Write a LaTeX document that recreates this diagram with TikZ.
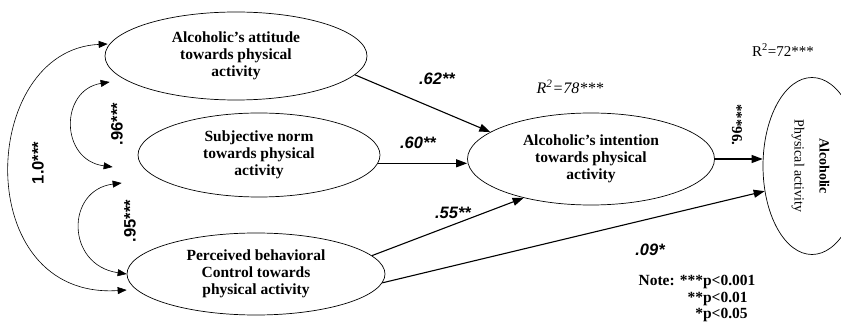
\documentclass[tikz,border=0pt]{standalone}
\usepackage{fontspec}
\setmainfont{Liberation Serif}
\newfontfamily\coeffont{Liberation Sans}
\usetikzlibrary{shapes.geometric,arrows.meta}

\begin{document}
\begin{tikzpicture}[x=1pt, y=-1pt, >={Triangle[length=11pt,width=8pt]},
  construct/.style={draw, ellipse, line width=0.7pt, inner sep=0pt, align=center,
    font=\bfseries\fontsize{15.5}{17}\selectfont},
  effect/.style={->, line width=1.1pt},
  corr/.style={{Triangle[length=9pt,width=7pt]}-{Triangle[length=9pt,width=7pt]}, line width=0.6pt},
  coef/.style={font=\coeffont\bfseries\itshape\fontsize{16.5}{17}\selectfont, inner sep=1pt},
  corrlabel/.style={font=\coeffont\bfseries\fontsize{16.5}{17}\selectfont, rotate=90, inner sep=1pt}]
  % Canvas in pixel units
  \useasboundingbox (0,0) rectangle (841,323);

  % Predictors
  \node[construct, minimum width=262pt, minimum height=88pt] (att) at (236,56)
    {Alcoholic’s attitude\\towards physical\\activity};
  \node[construct, minimum width=242pt, minimum height=84pt] (sub) at (259,155)
    {Subjective norm\\towards physical\\activity};
  \node[construct, minimum width=258pt, minimum height=82pt] (pbc) at (256,274)
    {Perceived behavioral\\Control towards\\physical activity};

  % Intention and behaviour
  \node[construct, minimum width=247pt, minimum height=92pt] (int) at (591,159)
    {Alcoholic’s intention\\towards physical\\activity};
  \node[draw, ellipse, line width=0.7pt, inner sep=0pt, minimum width=98pt, minimum height=177pt] (phys) at (812,166)
    {\rotatebox{-90}{\fontsize{14}{25}\selectfont\begin{tabular}{@{}c@{}}\bfseries Alcoholic\\Physical activity\end{tabular}}};

  % Paths
  \draw[effect] (att.-9) -- (int.165);
  \draw[effect] (sub.-4) -- (sub.-4 -| int.west);
  \draw[effect] (pbc.9) -- (int.210);
  \draw[effect] (pbc.-4) -- (phys.208);
  \draw[effect] (int.east) -- (int.east -| phys.west);

  % Path coefficients
  \node[coef] (c62) at (437,79) {.62**};
  \node[coef] (c60) at (418,143) {.60**};
  \node[coef] (c55) at (453,213) {.55**};
  \node[coef] (c09) at (650,250) {.09*};
  \node[font=\bfseries\fontsize{15}{17}\selectfont, rotate=-90, inner sep=1pt] (c96) at (737,125) {***96.};

  % Correlations between predictors
  \draw[corr] ([xshift=3pt,yshift=12pt]att.west) .. controls +(-129,6) and +(-157,10) .. ([yshift=-16pt]pbc.west);
  \draw[corr] ([xshift=5pt,yshift=-26pt]att.west) .. controls +(-50,8) and +(-53,-7) .. ([xshift=-25pt,yshift=-12pt]sub.west);
  \draw[corr] ([xshift=-16pt,yshift=-28pt]sub.west) .. controls +(-56,7) and +(-61,-9) .. (pbc.west);
  \node[corrlabel] (r10) at (38,163) {1.0***};
  \node[corrlabel] (r96) at (117,124) {.96***};
  \node[corrlabel] (r95) at (130,221) {.95***};

  % Explained variance
  \node[font=\itshape\fontsize{16}{17}\selectfont] (r2int) at (570,87) {R\textsuperscript{2}=78***};
  \node[font=\fontsize{15}{17}\selectfont] (r2phys) at (783,50) {R\textsuperscript{2}=72***};

  % Significance levels
  \node[font=\bfseries\fontsize{15.5}{16.5}\selectfont, inner sep=0pt] (note) at (697,299)
    {\begin{tabular}{@{}r@{}l@{}}Note: ***&p<0.001\\{}**&p<0.01\\{}*&p<0.05\end{tabular}};
\end{tikzpicture}
\end{document}
